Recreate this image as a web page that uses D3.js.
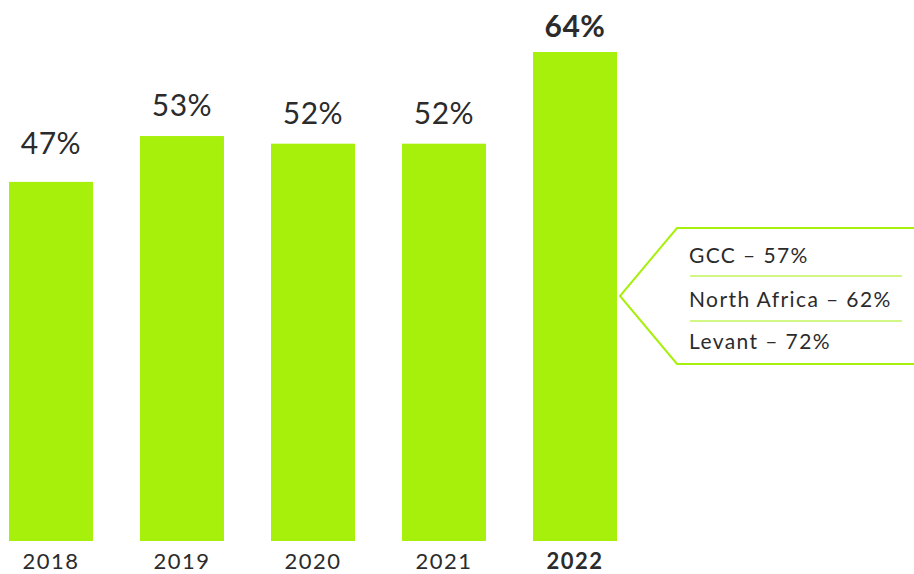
<!DOCTYPE html>
<html>
<head>
<meta charset="utf-8">
<script src="https://cdn.jsdelivr.net/npm/d3@7"></script>
<style>
  html, body { margin: 0; padding: 0; background: #ffffff; }
  svg { display: block; font-family: Lato, "Open Sans", sans-serif; }
</style>
</head>
<body>
<svg id="chart" width="914" height="574"></svg>
<script>
const years = ["2018", "2019", "2020", "2021", "2022"];
const values = [47, 53, 52, 52, 64];
const highlightYear = "2022";
const regionNames = ["GCC", "North Africa", "Levant"];
const regionValues = [57, 62, 72];

const green = "#a7f00b";
const textColor = "#2b2b2b";

const svg = d3.select("#chart");

const x = d3.scaleBand()
  .domain(years)
  .range([9, 617])
  .paddingInner(0.359)
  .paddingOuter(0);

const y = d3.scaleLinear()
  .domain([0, 64])
  .range([541, 52]);

// Bars
svg.append("g").selectAll("rect")
  .data(years)
  .join("rect")
  .attr("x", d => x(d))
  .attr("y", (d, i) => y(values[i]))
  .attr("width", x.bandwidth())
  .attr("height", (d, i) => y(0) - y(values[i]))
  .attr("fill", green);

// Value labels
svg.append("g").selectAll("text")
  .data(years)
  .join("text")
  .attr("x", d => x(d) + x.bandwidth() / 2)
  .attr("y", (d, i) => y(values[i]) - (d === highlightYear ? 15 : (values[i] < 50 ? 28 : 20)))
  .attr("text-anchor", "middle")
  .attr("font-size", 30)
  .attr("font-weight", d => d === highlightYear ? 700 : 400)
  .attr("letter-spacing", 0.5)
  .attr("fill", textColor)
  .text((d, i) => values[i] + "%");

// Year axis labels
const xAxis = d3.axisBottom(x).tickSize(0).tickPadding(0);
const axisG = svg.append("g")
  .attr("transform", "translate(0,555)")
  .call(xAxis);
axisG.select(".domain").remove();
axisG.selectAll("text")
  .attr("y", 14)
  .attr("dy", 0)
  .attr("font-family", "Lato, 'Open Sans', sans-serif")
  .attr("font-size", 22)
  .attr("letter-spacing", 1.5)
  .attr("font-weight", d => d === highlightYear ? 700 : 400)
  .attr("fill", textColor);

// Callout
const tipX = 620, tipY = 296, cornerX = 677, topY = 228, botY = 364, rightX = 916;
svg.append("path")
  .attr("d", `M${rightX},${topY} L${cornerX},${topY} L${tipX},${tipY} L${cornerX},${botY} L${rightX},${botY}`)
  .attr("fill", "none")
  .attr("stroke", green)
  .attr("stroke-width", 2);

const rowBaselines = [263, 307, 349];
const callG = svg.append("g");
callG.selectAll("text")
  .data(regionNames)
  .join("text")
  .attr("x", 689)
  .attr("y", (d, i) => rowBaselines[i])
  .attr("font-size", 21)
  .attr("letter-spacing", 1.4)
  .attr("fill", textColor)
  .text((d, i) => `${d} – ${regionValues[i]}%`);

[276, 321].forEach(yy => {
  callG.append("line")
    .attr("x1", 690).attr("x2", 902)
    .attr("y1", yy).attr("y2", yy)
    .attr("stroke", green)
    .attr("stroke-width", 1.2);
});
</script>
</body>
</html>
